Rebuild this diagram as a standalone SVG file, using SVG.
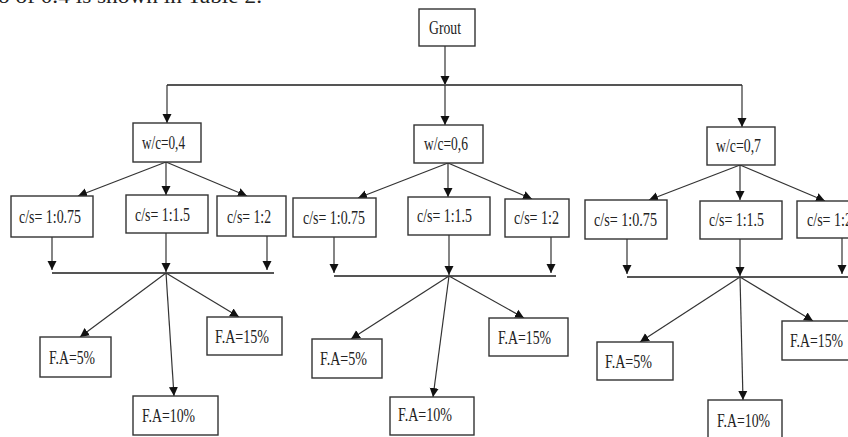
<svg xmlns="http://www.w3.org/2000/svg" width="848" height="437" viewBox="0 0 848 437">
<style>
.box{fill:#fff;stroke:#333;stroke-width:1.4}
.t{font-family:"Liberation Serif","Times New Roman",serif;font-size:19px;fill:#222}
.c{fill:none;stroke:#333;stroke-width:1.2}
.h{fill:none;stroke:#555;stroke-width:1.8}
</style>
<defs>
<marker id="ar" viewBox="0 0 10 10" refX="10" refY="5" markerWidth="9" markerHeight="10" markerUnits="userSpaceOnUse" orient="auto">
<path d="M0,0 L10,5 L0,10 z" fill="#111"/>
</marker>
</defs>
<rect width="848" height="437" fill="#fff"/>
<text x="-2" y="2.5" font-family="Liberation Serif, serif" font-size="20" fill="#222" textLength="264" lengthAdjust="spacingAndGlyphs">o of 0.4 is shown in Table 2.</text>

<g id="connectors">
<line class="c" x1="445" y1="46" x2="445" y2="85" marker-end="url(#ar)"/>
<line class="h" x1="167" y1="85" x2="742" y2="85"/>
<line class="c" x1="167" y1="85" x2="167" y2="123" marker-end="url(#ar)"/>
<line class="c" x1="445" y1="85" x2="445" y2="125" marker-end="url(#ar)"/>
<line class="c" x1="742" y1="85" x2="742" y2="127" marker-end="url(#ar)"/>

<line class="c" x1="166" y1="162" x2="78" y2="196" marker-end="url(#ar)"/>
<line class="c" x1="166" y1="162" x2="166" y2="195" marker-end="url(#ar)"/>
<line class="c" x1="166" y1="162" x2="247" y2="196" marker-end="url(#ar)"/>
<line class="c" x1="52" y1="237" x2="52" y2="270" marker-end="url(#ar)"/>
<line class="c" x1="166" y1="233" x2="166" y2="272" marker-end="url(#ar)"/>
<line class="c" x1="267" y1="236" x2="267" y2="270" marker-end="url(#ar)"/>
<line class="h" x1="52" y1="273" x2="274" y2="273"/>
<line class="c" x1="166" y1="273" x2="80" y2="337" marker-end="url(#ar)"/>
<line class="c" x1="166" y1="273" x2="174" y2="396" marker-end="url(#ar)"/>
<line class="c" x1="166" y1="273" x2="239" y2="317" marker-end="url(#ar)"/>

<line class="c" x1="448" y1="163" x2="358" y2="198" marker-end="url(#ar)"/>
<line class="c" x1="448" y1="163" x2="448" y2="197" marker-end="url(#ar)"/>
<line class="c" x1="448" y1="163" x2="532" y2="199" marker-end="url(#ar)"/>
<line class="c" x1="334" y1="237" x2="334" y2="273" marker-end="url(#ar)"/>
<line class="c" x1="449" y1="235" x2="449" y2="275" marker-end="url(#ar)"/>
<line class="c" x1="551" y1="237" x2="551" y2="273" marker-end="url(#ar)"/>
<line class="h" x1="334" y1="276" x2="556" y2="276"/>
<line class="c" x1="449" y1="276" x2="351" y2="339" marker-end="url(#ar)"/>
<line class="c" x1="449" y1="276" x2="433" y2="397" marker-end="url(#ar)"/>
<line class="c" x1="449" y1="276" x2="524" y2="318" marker-end="url(#ar)"/>

<line class="c" x1="740" y1="165" x2="649" y2="200" marker-end="url(#ar)"/>
<line class="c" x1="740" y1="165" x2="740" y2="200" marker-end="url(#ar)"/>
<line class="c" x1="740" y1="165" x2="825" y2="201" marker-end="url(#ar)"/>
<line class="c" x1="627" y1="239" x2="627" y2="274" marker-end="url(#ar)"/>
<line class="c" x1="740" y1="239" x2="740" y2="276" marker-end="url(#ar)"/>
<line class="c" x1="842" y1="238" x2="842" y2="274" marker-end="url(#ar)"/>
<line class="h" x1="627" y1="277" x2="848" y2="277"/>
<line class="c" x1="740" y1="277" x2="640" y2="342" marker-end="url(#ar)"/>
<line class="c" x1="740" y1="277" x2="743" y2="400" marker-end="url(#ar)"/>
<line class="c" x1="740" y1="277" x2="813" y2="321" marker-end="url(#ar)"/>
</g>

<g id="grout"><rect class="box" x="419" y="9" width="56" height="37"/><text class="t" x="429" y="34" textLength="32" lengthAdjust="spacingAndGlyphs">Grout</text></g>

<g id="wc04"><rect class="box" x="133" y="123" width="68" height="39"/><text class="t" x="142" y="149" textLength="43" lengthAdjust="spacingAndGlyphs">w/c=0,4</text></g>
<g id="wc06"><rect class="box" x="414" y="125" width="69" height="38"/><text class="t" x="424" y="150" textLength="44" lengthAdjust="spacingAndGlyphs">w/c=0,6</text></g>
<g id="wc07"><rect class="box" x="707" y="127" width="68" height="38"/><text class="t" x="716" y="152" textLength="45" lengthAdjust="spacingAndGlyphs">w/c=0,7</text></g>

<g id="g1cs075"><rect class="box" x="11" y="196" width="82" height="41"/><text class="t" x="19" y="223" textLength="62" lengthAdjust="spacingAndGlyphs">c/s= 1:0.75</text></g>
<g id="g1cs15"><rect class="box" x="126" y="195" width="82" height="38"/><text class="t" x="135" y="221" textLength="55" lengthAdjust="spacingAndGlyphs">c/s= 1:1.5</text></g>
<g id="g1cs2"><rect class="box" x="217" y="196" width="69" height="40"/><text class="t" x="227" y="223" textLength="44" lengthAdjust="spacingAndGlyphs">c/s= 1:2</text></g>

<g id="g2cs075"><rect class="box" x="293" y="198" width="83" height="39"/><text class="t" x="303" y="224" textLength="62" lengthAdjust="spacingAndGlyphs">c/s= 1:0.75</text></g>
<g id="g2cs15"><rect class="box" x="408" y="197" width="82" height="38"/><text class="t" x="417" y="222" textLength="55" lengthAdjust="spacingAndGlyphs">c/s= 1:1.5</text></g>
<g id="g2cs2"><rect class="box" x="505" y="199" width="64" height="38"/><text class="t" x="514" y="224" textLength="45" lengthAdjust="spacingAndGlyphs">c/s= 1:2</text></g>

<g id="g3cs075"><rect class="box" x="585" y="200" width="82" height="39"/><text class="t" x="594" y="226" textLength="63" lengthAdjust="spacingAndGlyphs">c/s= 1:0.75</text></g>
<g id="g3cs15"><rect class="box" x="700" y="201" width="82" height="38"/><text class="t" x="709" y="226" textLength="55" lengthAdjust="spacingAndGlyphs">c/s= 1:1.5</text></g>
<g id="g3cs2"><rect class="box" x="797" y="201" width="64" height="37"/><text class="t" x="807" y="226" textLength="45" lengthAdjust="spacingAndGlyphs">c/s= 1:2</text></g>

<g id="g1fa5"><rect class="box" x="40" y="337" width="71" height="40"/><text class="t" x="49" y="364" textLength="46" lengthAdjust="spacingAndGlyphs">F.A=5%</text></g>
<g id="g1fa10"><rect class="box" x="133" y="396" width="85" height="39"/><text class="t" x="142" y="422" textLength="53" lengthAdjust="spacingAndGlyphs">F.A=10%</text></g>
<g id="g1fa15"><rect class="box" x="207" y="317" width="75" height="38"/><text class="t" x="215" y="343" textLength="54" lengthAdjust="spacingAndGlyphs">F.A=15%</text></g>

<g id="g2fa5"><rect class="box" x="312" y="339" width="70" height="39"/><text class="t" x="320" y="365" textLength="47" lengthAdjust="spacingAndGlyphs">F.A=5%</text></g>
<g id="g2fa10"><rect class="box" x="390" y="397" width="84" height="38"/><text class="t" x="398" y="421" textLength="54" lengthAdjust="spacingAndGlyphs">F.A=10%</text></g>
<g id="g2fa15"><rect class="box" x="489" y="318" width="79" height="38"/><text class="t" x="498" y="344" textLength="53" lengthAdjust="spacingAndGlyphs">F.A=15%</text></g>

<g id="g3fa5"><rect class="box" x="597" y="342" width="76" height="38"/><text class="t" x="605" y="368" textLength="47" lengthAdjust="spacingAndGlyphs">F.A=5%</text></g>
<g id="g3fa10"><rect class="box" x="708" y="400" width="74" height="40"/><text class="t" x="717" y="427" textLength="53" lengthAdjust="spacingAndGlyphs">F.A=10%</text></g>
<g id="g3fa15"><rect class="box" x="782" y="321" width="75" height="39"/><text class="t" x="790" y="347" textLength="53" lengthAdjust="spacingAndGlyphs">F.A=15%</text></g>
</svg>
